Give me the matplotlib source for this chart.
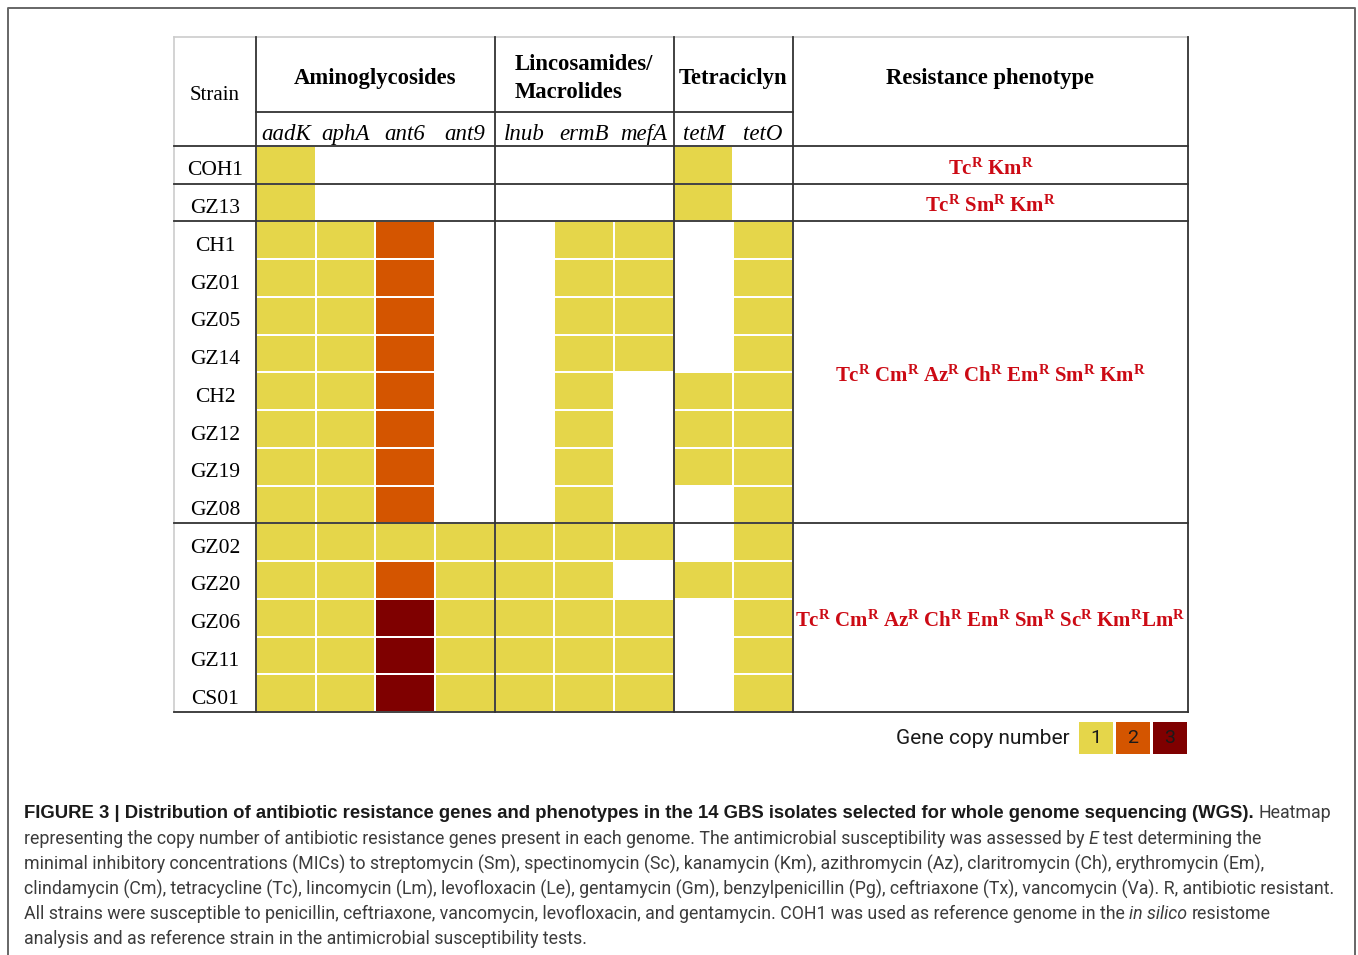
import numpy as np
import matplotlib
matplotlib.use('Agg')
from matplotlib import pyplot as plt
from matplotlib.colors import ListedColormap, BoundaryNorm

# gene copy number per strain (rows) and gene (columns)
strains = ['COH1', 'GZ13', 'CH1', 'GZ01', 'GZ05', 'GZ14', 'CH2', 'GZ12',
           'GZ19', 'GZ08', 'GZ02', 'GZ20', 'GZ06', 'GZ11', 'CS01']
genes = ['aadK', 'aphA', 'ant6', 'ant9', 'lnub', 'ermB', 'mefA', 'tetM', 'tetO']
gene_classes = ['Aminoglycosides', 'Lincosamides/\nMacrolides', 'Tetraciclyn']
class_sizes = [4, 3, 2]
copies = [
    [1, 0, 0, 0, 0, 0, 0, 1, 0],
    [1, 0, 0, 0, 0, 0, 0, 1, 0],
    [1, 1, 2, 0, 0, 1, 1, 0, 1],
    [1, 1, 2, 0, 0, 1, 1, 0, 1],
    [1, 1, 2, 0, 0, 1, 1, 0, 1],
    [1, 1, 2, 0, 0, 1, 1, 0, 1],
    [1, 1, 2, 0, 0, 1, 0, 1, 1],
    [1, 1, 2, 0, 0, 1, 0, 1, 1],
    [1, 1, 2, 0, 0, 1, 0, 1, 1],
    [1, 1, 2, 0, 0, 1, 0, 0, 1],
    [1, 1, 1, 1, 1, 1, 1, 0, 1],
    [1, 1, 2, 1, 1, 1, 0, 1, 1],
    [1, 1, 3, 1, 1, 1, 1, 0, 1],
    [1, 1, 3, 1, 1, 1, 1, 0, 1],
    [1, 1, 3, 1, 1, 1, 1, 0, 1],
]
# resistance phenotype groups: (first row, last row + 1) and drugs
# (a tuple is written without a gap, as in the original)
pheno_spans = [(0, 1), (1, 2), (2, 10), (10, 15)]
phenotypes = [['Tc', 'Km'],
              ['Tc', 'Sm', 'Km'],
              ['Tc', 'Cm', 'Az', 'Ch', 'Em', 'Sm', 'Km'],
              ['Tc', 'Cm', 'Az', 'Ch', 'Em', 'Sm', 'Sc', ('Km', 'Lm')]]
legend_levels = [1, 2, 3]

caption = [
    [("FIGURE 3 | Distribution of antibiotic resistance genes and phenotypes in the 14 GBS isolates selected for whole genome sequencing (WGS).", 'bold', 'normal'),
     (" Heatmap", 'normal', 'normal')],
    [("representing the copy number of antibiotic resistance genes present in each genome. The antimicrobial susceptibility was assessed by ", 'normal', 'normal'),
     ("E", 'normal', 'italic'),
     (" test determining the", 'normal', 'normal')],
    [("minimal inhibitory concentrations (MICs) to streptomycin (Sm), spectinomycin (Sc), kanamycin (Km), azithromycin (Az), claritromycin (Ch), erythromycin (Em),", 'normal', 'normal')],
    [("clindamycin (Cm), tetracycline (Tc), lincomycin (Lm), levofloxacin (Le), gentamycin (Gm), benzylpenicillin (Pg), ceftriaxone (Tx), vancomycin (Va). R, antibiotic resistant.", 'normal', 'normal')],
    [("All strains were susceptible to penicillin, ceftriaxone, vancomycin, levofloxacin, and gentamycin. COH1 was used as reference genome in the ", 'normal', 'normal'),
     ("in silico", 'normal', 'italic'),
     (" resistome", 'normal', 'normal')],
    [("analysis and as reference strain in the antimicrobial susceptibility tests.", 'normal', 'normal')],
]

plt.rcParams['mathtext.fontset'] = 'custom'
plt.rcParams['mathtext.rm'] = 'Liberation Serif'
plt.rcParams['mathtext.bf'] = 'Liberation Serif:bold'
plt.rcParams['mathtext.it'] = 'Liberation Serif:italic'

W, H = 1358, 955
fig = plt.figure(figsize=(W / 100, H / 100), dpi=100)
fig.patch.set_facecolor('white')
serif = 'Liberation Serif'
sans = 'Roboto'
dark = '#333333'

cmap = ListedColormap(['white', '#E5D64A', '#D45500', '#7F0000'])
norm = BoundaryNorm([-0.5, 0.5, 1.5, 2.5, 3.5], cmap.N)

# background axes in pixel units for frame and caption
bg = fig.add_axes([0, 0, 1, 1])
bg.set_xlim(0, W)
bg.set_ylim(H, 0)
bg.axis('off')
bg.plot([8, 8, 1355, 1355], [H + 5, 8, 8, H + 5], color='#666666', lw=1.4)

# table axes
cw = (793 - 256) / 9.0
rh = (712 - 146) / 15.0
xl = -(256 - 174) / cw
xr = 9 + (1188 - 793) / cw
yt = -(146 - 37) / rh
ax = fig.add_axes([174 / W, 1 - 712 / H, 1014 / W, 675 / H])
ax.pcolormesh(np.arange(len(genes) + 1), np.arange(len(strains) + 1), np.array(copies),
              cmap=cmap, norm=norm, edgecolors='white', linewidth=1.2)
ax.set_xlim(xl, xr)
ax.set_ylim(len(strains), yt)
ax.axis('off')

# table rules
ax.plot([xl, xr], [yt, yt], color='#cccccc', lw=1.2, clip_on=False)
ax.plot([xl, xl], [yt, len(strains)], color='#cccccc', lw=1.2, clip_on=False)
bounds = np.cumsum([0] + class_sizes)
for b in bounds:
    ax.plot([b, b], [yt, len(strains)], color=dark, lw=1.3, clip_on=False)
ax.plot([xr, xr], [yt, len(strains)], color=dark, lw=1.3, clip_on=False)
ax.plot([0, len(genes)], [-0.9, -0.9], color=dark, lw=1.3, clip_on=False)
ax.plot([xl, xr], [0, 0], color=dark, lw=1.3, clip_on=False)
for s, e in pheno_spans:
    ax.plot([xl, xr], [e, e], color=dark, lw=1.3, clip_on=False)

# headers
ax.text(xl / 2, yt / 2 + 0.1, 'Strain', ha='center', va='center',
        family=serif, fontsize=15)
for i, name in enumerate(gene_classes):
    cx = (bounds[i] + bounds[i + 1]) / 2
    ax.text(cx, -1.78, name, ha='center', va='center', family=serif,
            fontsize=16.3, fontweight='bold', multialignment='left', linespacing=1.45)
ax.text((9 + xr) / 2, -1.78, 'Resistance phenotype', ha='center', va='center',
        family=serif, fontsize=16.3, fontweight='bold')
for j, g in enumerate(genes):
    ax.text(j + 0.5, -0.3, g, ha='center', va='center', family=serif,
            fontsize=16.5, fontstyle='italic')
for i, s in enumerate(strains):
    ax.text(xl / 2, i + 0.66, s, ha='center', va='center', family=serif, fontsize=15.5)


def drug(code):
    return r'\mathbf{%s}^{\mathbf{R}}' % code


for (s, e), drugs in zip(pheno_spans, phenotypes):
    words = [''.join(drug(c) for c in d) if isinstance(d, tuple) else drug(d) for d in drugs]
    label = r'\ '.join(words)
    ax.text((9 + xr) / 2, (s + e) / 2 + 0.08, '$' + label + '$', ha='center', va='center',
            color='#CC0A14', fontsize=15)

# legend
lax = fig.add_axes([1077 / W, 1 - 755 / H, 111 / W, 35 / H])
lax.pcolormesh(np.arange(len(legend_levels) + 1), [0, 1], [legend_levels],
               cmap=cmap, norm=norm, edgecolors='white', linewidth=1.0)
lax.set_xlim(0, len(legend_levels))
lax.set_ylim(0, 1)
lax.axis('off')
for i, v in enumerate(legend_levels):
    lax.text(i + 0.5, 0.5, str(v), ha='center', va='center', family=sans,
             fontsize=14, color='#1a1a1a')
bg.text(1070, 738, 'Gene copy number', ha='right', va='center', family=sans,
        fontsize=15, color='#1a1a1a')

# caption, pieces laid out one after another
renderer = fig.canvas.get_renderer()


def text_width(s, **kw):
    t = bg.text(0, 0, s, **kw)
    w = t.get_window_extent(renderer=renderer).width
    t.remove()
    return w


line_y = [813, 839, 864, 889, 914, 939]
for y, parts in zip(line_y, caption):
    x = 24
    for s, weight, style in parts:
        if weight == 'bold':
            kw = dict(family='Liberation Sans', fontsize=13.3, fontweight='bold', fontstyle=style)
            col = '#1a1a1a'
        else:
            kw = dict(family=sans, fontsize=12.8, fontweight=weight, fontstyle=style)
            col = '#3c3c3c'
        space = text_width('a a', **kw) - text_width('aa', **kw)
        lead = len(s) - len(s.lstrip(' '))
        trail = len(s) - len(s.rstrip(' '))
        x += lead * space
        core = s.strip(' ')
        t = bg.text(x, y, core, ha='left', va='center', color=col, **kw)
        x += t.get_window_extent(renderer=renderer).width + trail * space

fig.savefig('out.png', dpi=100)
